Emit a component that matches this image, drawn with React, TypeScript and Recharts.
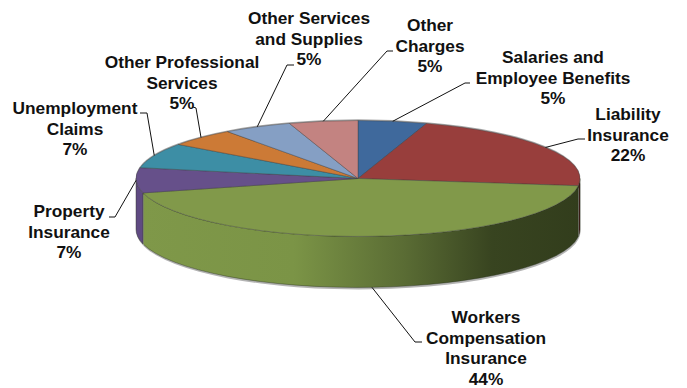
import { Pie, PieChart } from 'recharts';

const categories = [
  'Salaries and Employee Benefits',
  'Liability Insurance',
  'Workers Compensation Insurance',
  'Property Insurance',
  'Unemployment Claims',
  'Other Professional Services',
  'Other Services and Supplies',
  'Other Charges',
];
const shares = [5, 22, 44, 7, 7, 5, 5, 5];

const topColors = ['#3f699c', '#983e3c', '#81994a', '#66508a', '#3d8ea5', '#cc7a36', '#859fc4', '#c38381'];
const wallColors = ['#2c4a6e', '#3f1716', 'url(#greenWall)', '#5f4a82', '#2c6a7a', '#96592a', '#62769a', '#916160'];

// line breaks for each label, the percentage goes underneath
const labelLines = [
  ['Salaries and', 'Employee Benefits'],
  ['Liability', 'Insurance'],
  ['Workers', 'Compensation', 'Insurance'],
  ['Property', 'Insurance'],
  ['Unemployment', 'Claims'],
  ['Other Professional', 'Services'],
  ['Other Services', 'and Supplies'],
  ['Other', 'Charges'],
];

// label centre + first baseline, and the elbow of each leader line
const labelSpots = [
  { x: 553, y: 63, elbow: [465, 83], end: [470, 83] },
  { x: 628, y: 120, elbow: [578, 139], end: [585, 139] },
  { x: 486, y: 323, elbow: [415, 342], end: [422, 342] },
  { x: 69, y: 217, elbow: [115, 217], end: [109, 217] },
  { x: 75, y: 114, elbow: [147, 113], end: [140, 113] },
  { x: 182, y: 68, elbow: [196, 108], end: [193, 107] },
  { x: 309, y: 24, elbow: [287, 65], end: [294, 65] },
  { x: 430, y: 31, elbow: [387, 51], end: [393, 51] },
];

const CX = 358;
const CY = 178.5;
const RX = 222;
const SQUASH = 0.261;
const DEPTH = 51;

const chartData = categories.map((name, i) => ({ name, value: shares[i] }));

// point on the tilted rim for a recharts angle (degrees, counter-clockwise from east)
function rim(cx: number, cy: number, rx: number, deg: number) {
  const rad = (deg * Math.PI) / 180;
  return { x: cx + rx * Math.cos(rad), y: cy - rx * SQUASH * Math.sin(rad) };
}

function arcTo(rx: number, from: number, to: number, clockwise: boolean, p: { x: number; y: number }) {
  const large = Math.abs(from - to) > 180 ? 1 : 0;
  return `A${rx} ${rx * SQUASH} 0 ${large} ${clockwise ? 1 : 0} ${p.x} ${p.y}`;
}

function TopSlice(props: any) {
  const { cx, cy, outerRadius, startAngle, endAngle, index } = props;
  const a = rim(cx, cy, outerRadius, startAngle);
  const b = rim(cx, cy, outerRadius, endAngle);
  return (
    <path
      d={`M${cx} ${cy}L${a.x} ${a.y}${arcTo(outerRadius, startAngle, endAngle, true, b)}Z`}
      fill={topColors[index]}
      stroke="#3a3a3a"
      strokeOpacity={0.55}
      strokeWidth={0.7}
      strokeLinejoin="round"
    />
  );
}

// side wall below the rim, only the front half of the disc shows one
function WallSlice(props: any) {
  const { cx, cy, outerRadius, startAngle, endAngle, index } = props;
  const a = rim(cx, cy, outerRadius, startAngle);
  const b = rim(cx, cy, outerRadius, endAngle);
  const from = Math.min(startAngle, 0);
  const to = Math.max(endAngle, -180);
  const hasWall = from > to;
  const p = rim(cx, cy, outerRadius, from);
  const q = rim(cx, cy, outerRadius, to);
  const d = hasWall
    ? `M${p.x} ${p.y}${arcTo(outerRadius, from, to, true, q)}L${q.x} ${q.y + DEPTH}${arcTo(
        outerRadius,
        to,
        from,
        false,
        { x: p.x, y: p.y + DEPTH },
      )}Z`
    : '';
  return (
    <g>
      {/* soft grey edge around the disc */}
      <path
        d={`M${cx} ${cy - 1.2}L${a.x} ${a.y - 1.2}${arcTo(outerRadius, startAngle, endAngle, true, { x: b.x, y: b.y - 1.2 })}Z`}
        fill="#a8a8a8"
      />
      {hasWall && <path d={d} fill="#b4b4b4" transform="translate(0.5 2)" />}
      {hasWall && <path d={d} fill={wallColors[index]} stroke="#26301a" strokeOpacity={0.6} strokeWidth={0.7} />}
    </g>
  );
}

function SliceLabel(props: any) {
  const { cx, cy, outerRadius, midAngle, index } = props;
  const spot = labelSpots[index];
  const start = rim(cx, cy, outerRadius, midAngle);
  const startY = Math.sin((midAngle * Math.PI) / 180) < -0.5 ? start.y + DEPTH : start.y;
  const lines = [...labelLines[index], `${shares[index]}%`];
  return (
    <g>
      <polyline
        points={`${start.x},${startY} ${spot.elbow[0]},${spot.elbow[1]} ${spot.end[0]},${spot.end[1]}`}
        fill="none"
        stroke="#111"
        strokeWidth={1}
      />
      <text
        x={spot.x}
        y={spot.y}
        textAnchor="middle"
        fontFamily="'Liberation Sans', Arial, sans-serif"
        fontWeight={700}
        fontSize={17.3}
        fill="#111"
      >
        {lines.map((line, i) => (
          <tspan key={line} x={spot.x} dy={i === 0 ? 0 : 20.6}>
            {line}
          </tspan>
        ))}
      </text>
    </g>
  );
}

export default function App() {
  return (
    <div style={{ position: 'absolute', left: 0, top: 0, width: 687, height: 388, background: '#fff' }}>
      <PieChart width={687} height={388} margin={{ top: 0, right: 0, bottom: 0, left: 0 }}>
        <defs>
          <linearGradient id="greenWall" gradientUnits="userSpaceOnUse" x1="140" y1="0" x2="580" y2="0">
            <stop offset="0" stopColor="#7f9849" />
            <stop offset="0.35" stopColor="#7b9446" />
            <stop offset="0.6" stopColor="#5a6c34" />
            <stop offset="0.8" stopColor="#384420" />
            <stop offset="1" stopColor="#323d1c" />
          </linearGradient>
        </defs>
        <Pie
          data={chartData}
          dataKey="value"
          nameKey="name"
          cx={CX}
          cy={CY}
          outerRadius={RX}
          startAngle={90}
          endAngle={-270}
          paddingAngle={0}
          shape={WallSlice}
          isAnimationActive={false}
        />
        <Pie
          data={chartData}
          dataKey="value"
          nameKey="name"
          cx={CX}
          cy={CY}
          outerRadius={RX}
          startAngle={90}
          endAngle={-270}
          paddingAngle={0}
          shape={TopSlice}
          label={SliceLabel}
          labelLine={false}
          isAnimationActive={false}
        />
      </PieChart>
    </div>
  );
}
